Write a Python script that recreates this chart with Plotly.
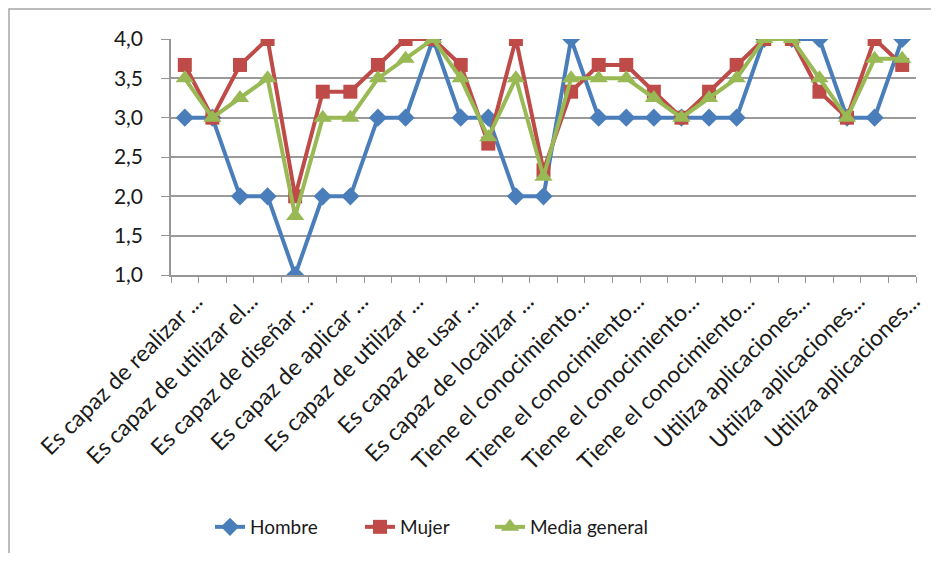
import plotly.graph_objects as go
import numpy as np

categories = [
    "Es capaz de realizar ...", "Es capaz de buscar ...", "Es capaz de utilizar el...",
    "Es capaz de elaborar ...", "Es capaz de diseñar ...", "Es capaz de crear ...",
    "Es capaz de aplicar ...", "Es capaz de integrar ...", "Es capaz de utilizar ...",
    "Es capaz de emplear ...", "Es capaz de usar ...", "Es capaz de evaluar ...",
    "Es capaz de localizar ...", "Es capaz de seleccionar ...", "Tiene el conocimiento...",
    "Tiene el conocimiento ...", "Tiene el conocimiento...", "Tiene el conocimiento ...",
    "Tiene el conocimiento...", "Tiene el conocimiento ...", "Tiene el conocimiento...",
    "Utiliza aplicaciones ...", "Utiliza aplicaciones...", "Utiliza aplicaciones ...",
    "Utiliza aplicaciones...", "Utiliza aplicaciones ...", "Utiliza aplicaciones...",
]
hombre = [3, 3, 2, 2, 1, 2, 2, 3, 3, 4, 3, 3, 2, 2, 4, 3, 3, 3, 3, 3, 3, 4, 4, 4, 3, 3, 4]
mujer = [3.67, 3, 3.67, 4, 2, 3.33, 3.33, 3.67, 4, 4, 3.67, 2.67, 4, 2.33, 3.33,
         3.67, 3.67, 3.33, 3, 3.33, 3.67, 4, 4, 3.33, 3, 4, 3.67]
media = [3.5, 3, 3.25, 3.5, 1.75, 3, 3, 3.5, 3.75, 4, 3.5, 2.75, 3.5, 2.25, 3.5,
         3.5, 3.5, 3.25, 3, 3.25, 3.5, 4, 4, 3.5, 3, 3.75, 3.75]
y_ticks = [1.0, 1.5, 2.0, 2.5, 3.0, 3.5, 4.0]

xpos = np.arange(len(categories))
FONT = "Lato"
TXT = "#1a1a1a"

OFF = 8  # page body margin
W, H = 939 - 2 * OFF, 561 - 2 * OFF
left_px, right_px, top_px, bot_px = 171, 916, 39, 275  # plot area in page pixels
L = left_px - OFF
T = top_px - OFF
R = W - (right_px - OFF)
B = H - (bot_px - OFF)
pw, ph = W - L - R, H - T - B

def px(xp):
    return (xp - OFF - L) / pw

def py(yp):
    return (H - B - (yp - OFF)) / ph

fig = go.Figure()
series = [
    ("Hombre", hombre, "#4A7EBB", "diamond", 14, "legend", 232),
    ("Mujer", mujer, "#BE4B48", "square", 14, "legend2", 382),
    ("Media general", media, "#98B954", "triangle-up", 16, "legend3", 512),
]
legend_cfg = {}
for name, vals, col, sym, sz, lg, lx in series:
    fig.add_trace(go.Scatter(
        x=xpos, y=vals, name=name, mode="lines+markers",
        line=dict(color=col, width=4),
        marker=dict(symbol=sym, size=sz, color=col),
        legend=lg,
    ))
    legend_cfg[lg] = dict(orientation="h", x=px(lx - 22), xanchor="left",
                          y=py(527), yanchor="middle",
                          font=dict(family=FONT, size=19, color=TXT),
                          bgcolor="rgba(0,0,0,0)")

fig.update_layout(
    width=W, height=H,
    margin=dict(l=L, r=R, t=T, b=B, autoexpand=False),
    paper_bgcolor="white", plot_bgcolor="white",
    separators=",.",
    font=dict(family=FONT, size=17, color=TXT),
    showlegend=True,
    **legend_cfg,
    xaxis=dict(
        range=[-0.5, len(categories) - 0.5],
        tickmode="array", tickvals=xpos[::2] + 0.4, ticktext=categories[::2],
        tickangle=-45, ticks="", showgrid=False, zeroline=False,
        showline=True, linecolor="#969696", linewidth=1.5,
        ticklabelstandoff=2,
        tickfont=dict(family=FONT, size=23, color=TXT),
        minor=dict(tickvals=list(np.arange(-0.5, len(categories), 1.0)), ticks="outside",
                   ticklen=6, tickcolor="#969696", tickwidth=1, showgrid=False),
    ),
    yaxis=dict(
        range=[1, 4], tickmode="array", tickvals=y_ticks, tickformat=".1f",
        ticks="outside", ticklen=8, tickcolor="#969696",
        ticklabelstandoff=14,
        showgrid=True, gridcolor="#9a9a9a", gridwidth=1.5,
        zeroline=False, showline=True, linecolor="#969696", linewidth=1.5,
        tickfont=dict(family=FONT, size=21, color=TXT),
    ),
    shapes=[dict(type="rect", xref="paper", yref="paper",
                 x0=px(9), x1=px(939 + 60), y0=py(561 + 60), y1=py(9),
                 line=dict(color="#a6a6a6", width=1.5), fillcolor="rgba(0,0,0,0)", layer="below")],
)

fig.write_html("out.html")
